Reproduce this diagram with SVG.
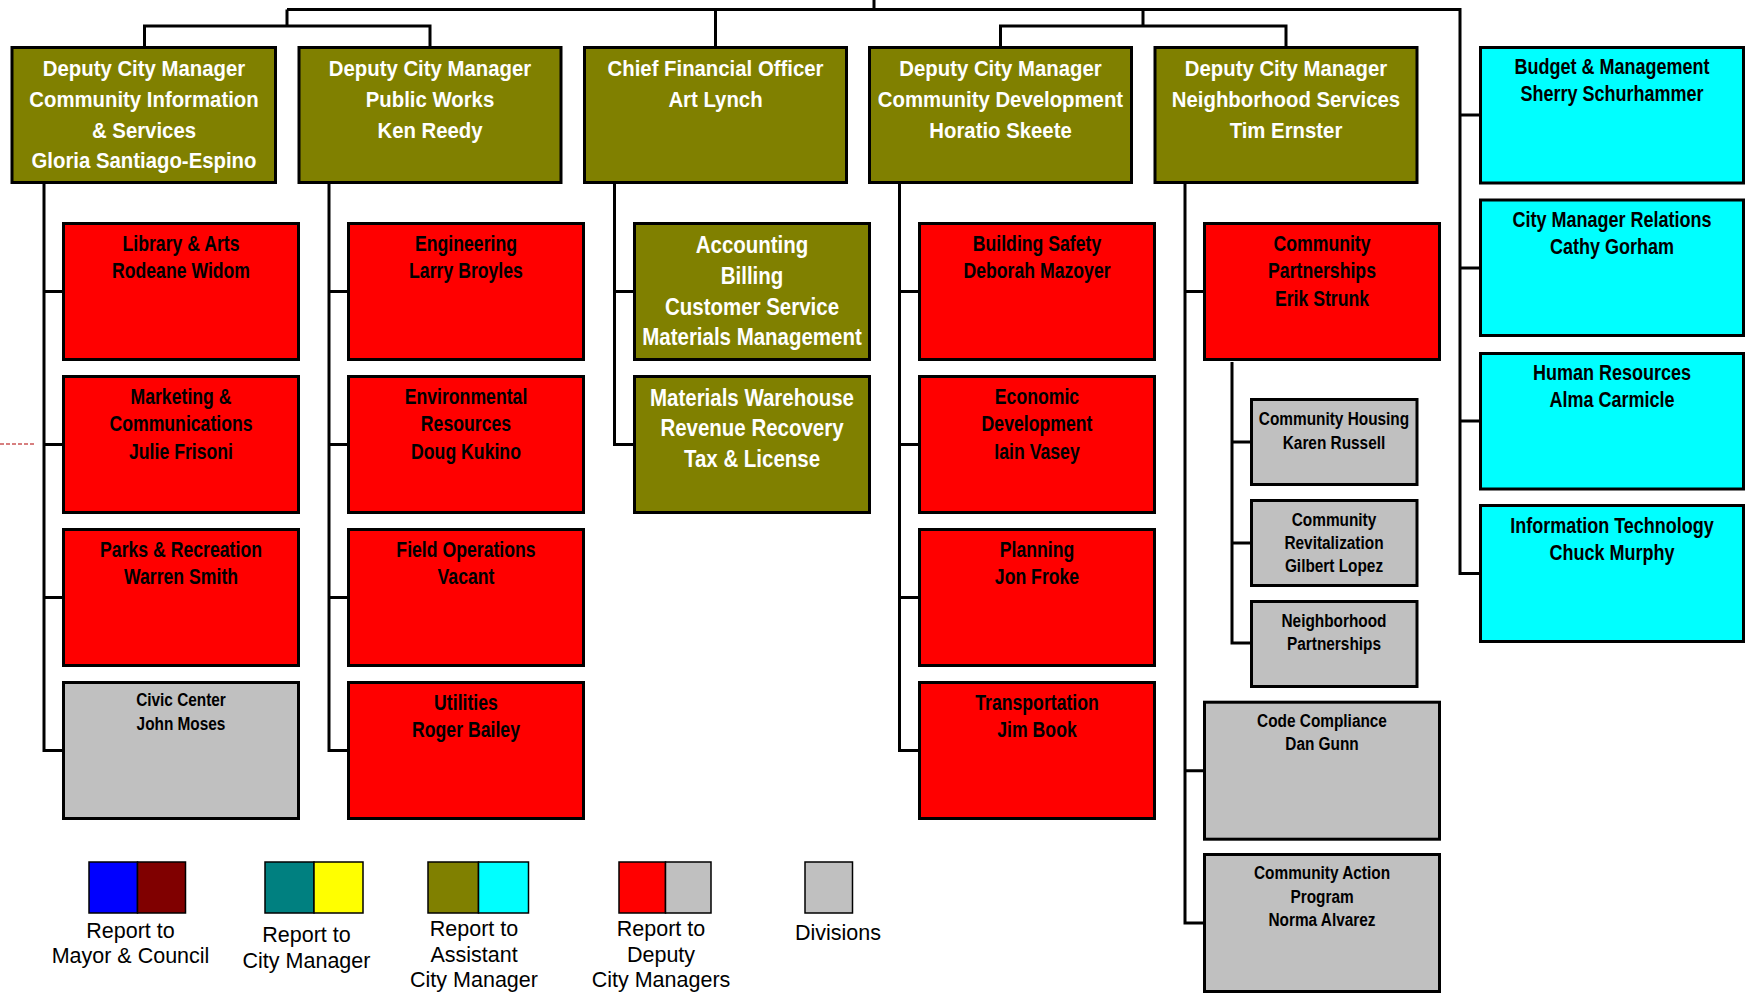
<svg xmlns="http://www.w3.org/2000/svg" width="1747" height="997" viewBox="0 0 1747 997">
<style>
rect.n{stroke:#000;stroke-width:3}
rect.s{stroke:#000;stroke-width:1.5}
.olive{fill:#808000}.red{fill:#ff0000}.gray{fill:#c0c0c0}.cyan{fill:#00ffff}
.blue{fill:#0000ff}.maroon{fill:#800000}.teal{fill:#008080}.yellow{fill:#ffff00}
text{font-family:"Liberation Sans",Arial,sans-serif;text-anchor:middle}
.h{font-size:23px;font-weight:bold;fill:#fff}
.b{font-size:22.5px;font-weight:bold;fill:#000}
.g{font-size:19px;font-weight:bold;fill:#000}
.l{font-size:21.5px;fill:#000}
#connectors path{fill:none;stroke:#000;stroke-width:3}
</style>
<rect width="1747" height="997" fill="#fff"/>
<g id="connectors">
<path d="M874 0V9.5M287 9.5H1460V573.5H1479M1460 115H1479M1460 268H1479M1460 421H1479M287 9.5V26M144.5 46V26H430V46M715.5 9.5V46M1143 9.5V26M1000.5 46V26H1286V46"/>
<path d="M44 184V750.5H62M44 291.5H62M44 444.5H62M44 597.5H62"/>
<path d="M329 184V750.5H347M329 291.5H347M329 444.5H347M329 597.5H347"/>
<path d="M614.5 184V444.5H633M614.5 291.5H633"/>
<path d="M899.5 184V750.5H918M899.5 291.5H918M899.5 444.5H918M899.5 597.5H918"/>
<path d="M1185 184V923H1203M1185 291.5H1203M1185 770.7H1203"/>
<path d="M1232 362V643H1250M1232 442H1250M1232 543H1250"/>
</g>
<g id="stray"><line x1="0" y1="444" x2="34" y2="444" stroke="#b00000" stroke-width="1.2" stroke-dasharray="4 2"/></g>

<g id="dcm-cis"><rect class="n olive" x="12" y="47.5" width="263.5" height="135"/>
<g transform="translate(144 0) scale(0.885 1)"><text class="h"><tspan x="0" y="76.5">Deputy City Manager</tspan><tspan x="0" y="107">Community Information</tspan><tspan x="0" y="137.6">&amp; Services</tspan><tspan x="0" y="168.2">Gloria Santiago-Espino</tspan></text></g></g>
<g id="dcm-pw"><rect class="n olive" x="299" y="47.5" width="262" height="135"/>
<g transform="translate(430 0) scale(0.885 1)"><text class="h"><tspan x="0" y="76.5">Deputy City Manager</tspan><tspan x="0" y="107">Public Works</tspan><tspan x="0" y="137.6">Ken Reedy</tspan></text></g></g>
<g id="cfo"><rect class="n olive" x="584.5" y="47.5" width="262" height="135"/>
<g transform="translate(715.5 0) scale(0.885 1)"><text class="h"><tspan x="0" y="76.5">Chief Financial Officer</tspan><tspan x="0" y="107">Art Lynch</tspan></text></g></g>
<g id="dcm-cd"><rect class="n olive" x="869.5" y="47.5" width="262" height="135"/>
<g transform="translate(1000.5 0) scale(0.885 1)"><text class="h"><tspan x="0" y="76.5">Deputy City Manager</tspan><tspan x="0" y="107">Community Development</tspan><tspan x="0" y="137.6">Horatio Skeete</tspan></text></g></g>
<g id="dcm-ns"><rect class="n olive" x="1155" y="47.5" width="262" height="135"/>
<g transform="translate(1286 0) scale(0.885 1)"><text class="h"><tspan x="0" y="76.5">Deputy City Manager</tspan><tspan x="0" y="107">Neighborhood Services</tspan><tspan x="0" y="137.6">Tim Ernster</tspan></text></g></g>

<g id="budget"><rect class="n cyan" x="1480.5" y="47.5" width="263" height="135.5"/>
<g transform="translate(1612 0) scale(0.8 1)"><text class="b"><tspan x="0" y="74.5">Budget &amp; Management</tspan><tspan x="0" y="101.5">Sherry Schurhammer</tspan></text></g></g>
<g id="cmr"><rect class="n cyan" x="1480.5" y="200" width="263" height="135.5"/>
<g transform="translate(1612 0) scale(0.8 1)"><text class="b"><tspan x="0" y="227">City Manager Relations</tspan><tspan x="0" y="254">Cathy Gorham</tspan></text></g></g>
<g id="hr"><rect class="n cyan" x="1480.5" y="353.5" width="263" height="135.5"/>
<g transform="translate(1612 0) scale(0.8 1)"><text class="b"><tspan x="0" y="380.5">Human Resources</tspan><tspan x="0" y="407.5">Alma Carmicle</tspan></text></g></g>
<g id="it"><rect class="n cyan" x="1480.5" y="505.5" width="263" height="136"/>
<g transform="translate(1612 0) scale(0.8 1)"><text class="b"><tspan x="0" y="532.7">Information Technology</tspan><tspan x="0" y="559.7">Chuck Murphy</tspan></text></g></g>

<g id="library"><rect class="n red" x="63.5" y="223.5" width="235" height="136"/>
<g transform="translate(181 0) scale(0.785 1)"><text class="b"><tspan x="0" y="251">Library &amp; Arts</tspan><tspan x="0" y="278.3">Rodeane Widom</tspan></text></g></g>
<g id="marketing"><rect class="n red" x="63.5" y="376.5" width="235" height="136"/>
<g transform="translate(181 0) scale(0.785 1)"><text class="b"><tspan x="0" y="404">Marketing &amp;</tspan><tspan x="0" y="431.3">Communications</tspan><tspan x="0" y="458.6">Julie Frisoni</tspan></text></g></g>
<g id="parks"><rect class="n red" x="63.5" y="529.5" width="235" height="136"/>
<g transform="translate(181 0) scale(0.785 1)"><text class="b"><tspan x="0" y="557">Parks &amp; Recreation</tspan><tspan x="0" y="584.3">Warren Smith</tspan></text></g></g>
<g id="civic"><rect class="n gray" x="63.5" y="682.5" width="235" height="136"/>
<g transform="translate(181 0) scale(0.81 1)"><text class="g"><tspan x="0" y="706.3">Civic Center</tspan><tspan x="0" y="729.8">John Moses</tspan></text></g></g>

<g id="engineering"><rect class="n red" x="348.5" y="223.5" width="235" height="136"/>
<g transform="translate(466 0) scale(0.785 1)"><text class="b"><tspan x="0" y="251">Engineering</tspan><tspan x="0" y="278.3">Larry Broyles</tspan></text></g></g>
<g id="environmental"><rect class="n red" x="348.5" y="376.5" width="235" height="136"/>
<g transform="translate(466 0) scale(0.785 1)"><text class="b"><tspan x="0" y="404">Environmental</tspan><tspan x="0" y="431.3">Resources</tspan><tspan x="0" y="458.6">Doug Kukino</tspan></text></g></g>
<g id="fieldops"><rect class="n red" x="348.5" y="529.5" width="235" height="136"/>
<g transform="translate(466 0) scale(0.785 1)"><text class="b"><tspan x="0" y="557">Field Operations</tspan><tspan x="0" y="584.3">Vacant</tspan></text></g></g>
<g id="utilities"><rect class="n red" x="348.5" y="682.5" width="235" height="136"/>
<g transform="translate(466 0) scale(0.785 1)"><text class="b"><tspan x="0" y="710">Utilities</tspan><tspan x="0" y="737.3">Roger Bailey</tspan></text></g></g>

<g id="accounting"><rect class="n olive" x="634.5" y="223.5" width="235" height="136"/>
<g transform="translate(752 0) scale(0.89 1)"><text class="h"><tspan x="0" y="253.3">Accounting</tspan><tspan x="0" y="284">Billing</tspan><tspan x="0" y="314.7">Customer Service</tspan><tspan x="0" y="345.4">Materials Management</tspan></text></g></g>
<g id="warehouse"><rect class="n olive" x="634.5" y="376.5" width="235" height="136"/>
<g transform="translate(752 0) scale(0.89 1)"><text class="h"><tspan x="0" y="405.7">Materials Warehouse</tspan><tspan x="0" y="436.2">Revenue Recovery</tspan><tspan x="0" y="466.7">Tax &amp; License</tspan></text></g></g>

<g id="building"><rect class="n red" x="919.5" y="223.5" width="235" height="136"/>
<g transform="translate(1037 0) scale(0.785 1)"><text class="b"><tspan x="0" y="251">Building Safety</tspan><tspan x="0" y="278.3">Deborah Mazoyer</tspan></text></g></g>
<g id="economic"><rect class="n red" x="919.5" y="376.5" width="235" height="136"/>
<g transform="translate(1037 0) scale(0.785 1)"><text class="b"><tspan x="0" y="404">Economic</tspan><tspan x="0" y="431.3">Development</tspan><tspan x="0" y="458.6">Iain Vasey</tspan></text></g></g>
<g id="planning"><rect class="n red" x="919.5" y="529.5" width="235" height="136"/>
<g transform="translate(1037 0) scale(0.785 1)"><text class="b"><tspan x="0" y="557">Planning</tspan><tspan x="0" y="584.3">Jon Froke</tspan></text></g></g>
<g id="transportation"><rect class="n red" x="919.5" y="682.5" width="235" height="136"/>
<g transform="translate(1037 0) scale(0.785 1)"><text class="b"><tspan x="0" y="710">Transportation</tspan><tspan x="0" y="737.3">Jim Book</tspan></text></g></g>

<g id="partnerships"><rect class="n red" x="1204.5" y="223.5" width="235" height="136"/>
<g transform="translate(1322 0) scale(0.785 1)"><text class="b"><tspan x="0" y="251">Community</tspan><tspan x="0" y="278.3">Partnerships</tspan><tspan x="0" y="305.6">Erik Strunk</tspan></text></g></g>
<g id="housing"><rect class="n gray" x="1251.5" y="399.5" width="165.5" height="85"/>
<g transform="translate(1334 0) scale(0.81 1)"><text class="g"><tspan x="0" y="425.3">Community Housing</tspan><tspan x="0" y="448.6">Karen Russell</tspan></text></g></g>
<g id="revitalization"><rect class="n gray" x="1251.5" y="500.5" width="165.5" height="85"/>
<g transform="translate(1334 0) scale(0.81 1)"><text class="g"><tspan x="0" y="525.8">Community</tspan><tspan x="0" y="549.1">Revitalization</tspan><tspan x="0" y="572.4">Gilbert Lopez</tspan></text></g></g>
<g id="neighborhood"><rect class="n gray" x="1251.5" y="601.5" width="165.5" height="85"/>
<g transform="translate(1334 0) scale(0.81 1)"><text class="g"><tspan x="0" y="626.8">Neighborhood</tspan><tspan x="0" y="650.1">Partnerships</tspan></text></g></g>
<g id="code"><rect class="n gray" x="1204.5" y="702.2" width="235" height="137"/>
<g transform="translate(1322 0) scale(0.81 1)"><text class="g"><tspan x="0" y="727">Code Compliance</tspan><tspan x="0" y="750.5">Dan Gunn</tspan></text></g></g>
<g id="cap"><rect class="n gray" x="1204.5" y="854.5" width="235" height="137"/>
<g transform="translate(1322 0) scale(0.81 1)"><text class="g"><tspan x="0" y="879.3">Community Action</tspan><tspan x="0" y="902.8">Program</tspan><tspan x="0" y="926.3">Norma Alvarez</tspan></text></g></g>

<g id="legend-mayor"><rect class="s blue" x="89" y="862" width="48.5" height="51"/><rect class="s maroon" x="137.5" y="862" width="48" height="51"/>
<text class="l"><tspan x="130.5" y="938">Report to</tspan><tspan x="130.5" y="963">Mayor &amp; Council</tspan></text></g>
<g id="legend-cm"><rect class="s teal" x="265" y="862" width="49" height="51"/><rect class="s yellow" x="314" y="862" width="49" height="51"/>
<text class="l"><tspan x="306.5" y="941.5">Report to</tspan><tspan x="306.5" y="967.5">City Manager</tspan></text></g>
<g id="legend-acm"><rect class="s olive" x="428" y="862" width="50.5" height="51"/><rect class="s cyan" x="478.5" y="862" width="50" height="51"/>
<text class="l"><tspan x="474" y="936">Report to</tspan><tspan x="474" y="962">Assistant</tspan><tspan x="474" y="987">City Manager</tspan></text></g>
<g id="legend-dcm"><rect class="s red" x="619" y="862" width="46.5" height="51"/><rect class="s gray" x="665.5" y="862" width="45.5" height="51"/>
<text class="l"><tspan x="661" y="936">Report to</tspan><tspan x="661" y="962">Deputy</tspan><tspan x="661" y="987">City Managers</tspan></text></g>
<g id="legend-div"><rect class="s gray" x="805" y="862" width="47.5" height="51"/>
<text class="l"><tspan x="838" y="939.5">Divisions</tspan></text></g>
</svg>
